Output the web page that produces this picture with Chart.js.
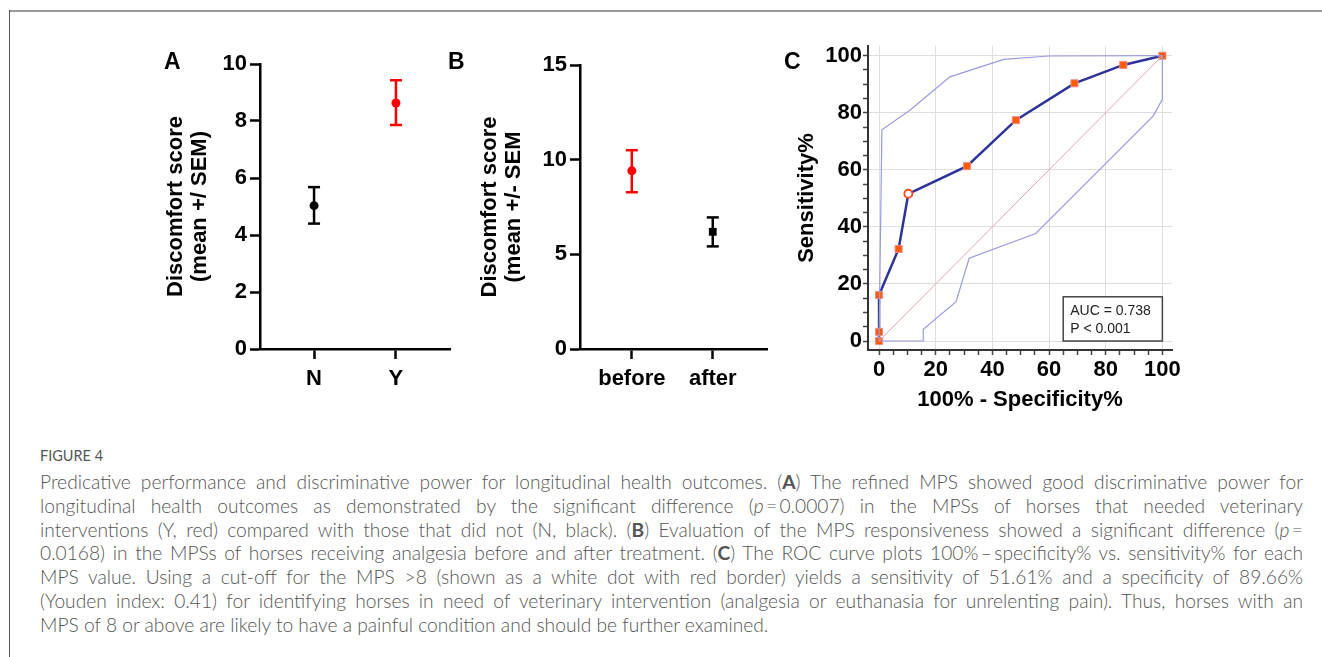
<!DOCTYPE html>
<html>
<head>
<meta charset="utf-8">
<script src="https://cdn.jsdelivr.net/npm/chart.js@4.4.1/dist/chart.umd.min.js"></script>
<style>
  body { margin:0; background:#fff; width:1322px; height:657px; overflow:hidden; position:relative; font-family:"Liberation Sans", Arial, sans-serif; }
  .frameTop { position:absolute; left:9px; top:10px; width:1313px; height:2px; background:#999; }
  .frameLeft { position:absolute; left:9px; top:10px; width:1px; height:647px; background:#555; }
  .panel { position:absolute; }
  .letter { position:absolute; font:bold 23px "Liberation Sans", Arial, sans-serif; color:#000; line-height:1; }
  #figlabel { position:absolute; left:40px; top:448px; font:14.5px Lato, "Open Sans", sans-serif; color:#555; line-height:16px; }
  #caption { position:absolute; left:40px; top:470px; width:1263px; font:300 19.2px Lato, "Open Sans", sans-serif; color:#555; line-height:23.8px; }
  #caption div { white-space:nowrap; text-align:justify; text-align-last:justify; }
  #caption div.last { text-align-last:left; }
  #caption b { font-weight:700; }
</style>
</head>
<body>
<div class="frameTop"></div>
<div class="frameLeft"></div>

<div class="panel" style="left:140px;top:30px"><canvas id="chartA" width="330" height="380"></canvas></div>
<div class="panel" style="left:430px;top:30px"><canvas id="chartB" width="350" height="380"></canvas></div>
<div class="panel" style="left:780px;top:30px"><canvas id="chartC" width="420" height="395"></canvas></div>

<div class="letter" style="left:164px;top:50px">A</div>
<div class="letter" style="left:448px;top:50px">B</div>
<div class="letter" style="left:784px;top:50px">C</div>

<div id="figlabel">FIGURE 4</div>
<div id="caption">
<div>Predicative performance and discriminative power for longitudinal health outcomes. (<b>A</b>) The refined MPS showed good discriminative power for</div>
<div>longitudinal health outcomes as demonstrated by the significant difference (<i>p</i>&#8201;=&#8201;0.0007) in the MPSs of horses that needed veterinary</div>
<div>interventions (Y, red) compared with those that did not (N, black). (<b>B</b>) Evaluation of the MPS responsiveness showed a significant difference (<i>p</i>&#8201;=</div>
<div>0.0168) in the MPSs of horses receiving analgesia before and after treatment. (<b>C</b>) The ROC curve plots 100%&#8201;&ndash;&#8201;specificity% vs. sensitivity% for each</div>
<div>MPS value. Using a cut-off for the MPS &gt;8 (shown as a white dot with red border) yields a sensitivity of 51.61% and a specificity of 89.66%</div>
<div>(Youden index: 0.41) for identifying horses in need of veterinary intervention (analgesia or euthanasia for unrelenting pain). Thus, horses with an</div>
<div class="last">MPS of 8 or above are likely to have a painful condition and should be further examined.</div>
</div>

<script>
// panel A: needed intervention (N / Y)
var groupsA = ['N', 'Y'];
var meanA = [5.03, 8.63];
var lowerA = [4.40, 7.86];
var upperA = [5.68, 9.43];
var ticksA = [0, 2, 4, 6, 8, 10];

// panel B: before / after analgesia
var groupsB = ['before', 'after'];
var meanB = [9.41, 6.19];
var lowerB = [8.28, 5.42];
var upperB = [10.50, 6.95];
var ticksB = [0, 5, 10, 15];

// panel C: ROC curve
var rocX = [0, 0, 0, 6.90, 10.34, 31.03, 48.28, 68.97, 86.21, 100];
var rocY = [0, 3.23, 16.13, 32.26, 51.61, 61.29, 77.42, 90.32, 96.77, 100];
var cutoffIdx = 4;
var upperBandX = [0, 1, 11, 25, 44, 60, 100];
var upperBandY = [0, 74, 81, 92.6, 98.7, 99.9, 100];
var lowerBandX = [0, 15.6, 15.6, 27.2, 31.8, 55.3, 96.8, 100, 100];
var lowerBandY = [0, 0, 4.1, 13.8, 29.0, 37.7, 78.9, 84.7, 100];
var diagX = [0, 100];
var diagY = [0, 100];
var ticksC = [0, 20, 40, 60, 80, 100];
var aucText = ['AUC = 0.738', 'P < 0.001'];

var boldFont = '"Liberation Sans", Arial, sans-serif';

function pts(xs, ys) {
  return xs.map(function (x, i) { return { x: x, y: ys[i] }; });
}

function dotPlot(id, groups, mean, lower, upper, yTicks, colors, shapes, title, box) {
  var datasets = [];
  groups.forEach(function (g, i) {
    datasets.push({
      data: [{ x: i + 1, y: lower[i] }, { x: i + 1, y: upper[i] }],
      showLine: true,
      borderColor: colors[i],
      borderWidth: 2.5,
      pointStyle: 'line',
      pointRadius: 6,
      pointBorderWidth: 2.5,
      pointBorderColor: colors[i]
    });
    datasets.push({
      data: [{ x: i + 1, y: mean[i] }],
      pointStyle: shapes[i],
      pointRadius: shapes[i] === 'rect' ? 5.5 : 4.5,
      pointBackgroundColor: colors[i],
      pointBorderColor: colors[i],
      pointBorderWidth: 0
    });
  });

  return new Chart(document.getElementById(id), {
    type: 'scatter',
    data: { datasets: datasets },
    options: {
      responsive: false,
      animation: false,
      layout: { padding: { top: box.top, right: box.right, left: 0, bottom: 0 } },
      plugins: { legend: { display: false }, tooltip: { enabled: false } },
      scales: {
        x: {
          type: 'linear',
          min: box.xmin, max: box.xmax,
          afterBuildTicks: function (s) { s.ticks = groups.map(function (g, i) { return { value: i + 1 }; }); },
          afterFit: function (s) { s.height = box.xh; },
          ticks: {
            autoSkip: false, padding: 7, color: '#000',
            font: { family: boldFont, size: 22, weight: 'bold' },
            callback: function (v) { return groups[v - 1]; }
          },
          grid: { drawOnChartArea: false, drawTicks: true, tickLength: 10, tickWidth: 2.5, tickColor: '#000' },
          border: { color: '#000', width: 2.5 }
        },
        y: {
          min: yTicks[0], max: yTicks[yTicks.length - 1],
          afterBuildTicks: function (s) { s.ticks = yTicks.map(function (v) { return { value: v }; }); },
          afterFit: function (s) { s.width = box.yw; },
          ticks: { padding: 3, color: '#000', font: { family: boldFont, size: 22, weight: 'bold' } },
          grid: { drawOnChartArea: false, drawTicks: true, tickLength: 10, tickWidth: 2.5, tickColor: '#000' },
          border: { color: '#000', width: 2.5 },
          title: {
            display: true, text: title, color: '#000',
            font: { family: boldFont, size: 22, weight: 'bold', lineHeight: 1.1 },
            padding: { top: box.titlePad, bottom: 0 }
          }
        }
      }
    }
  });
}

dotPlot('chartA', groupsA, meanA, lowerA, upperA, ticksA, ['#000000', '#ff0000'], ['circle', 'circle'],
  ['Discomfort score', '(mean +/ SEM)'],
  { top: 34, right: 20, xh: 61, yw: 120, xmin: 0.34, xmax: 2.66, titlePad: 24 });

dotPlot('chartB', groupsB, meanB, lowerB, upperB, ticksB, ['#ff0000', '#000000'], ['circle', 'rect'],
  ['Discomfort score', '(mean +/- SEM'],
  { top: 35, right: 13, xh: 61, yw: 150, xmin: 0.36, xmax: 2.67, titlePad: 48 });

// AUC text box in the lower right of panel C
var aucBox = {
  id: 'aucBox',
  afterDatasetsDraw: function (chart) {
    var ctx = chart.ctx, x = chart.scales.x, y = chart.scales.y;
    var l = x.getPixelForValue(65), r = x.getPixelForValue(100);
    var t = y.getPixelForValue(15.5), b = y.getPixelForValue(0);
    ctx.save();
    ctx.fillStyle = '#fff';
    ctx.fillRect(l, t, r - l, b - t);
    ctx.strokeStyle = '#444';
    ctx.lineWidth = 1.5;
    ctx.strokeRect(l, t, r - l, b - t);
    ctx.fillStyle = '#222';
    ctx.font = '14px "Liberation Sans", Arial, sans-serif';
    ctx.textBaseline = 'alphabetic';
    ctx.fillText(aucText[0], l + 7, t + 18);
    ctx.fillText(aucText[1], l + 7, t + 36);
    ctx.restore();
  }
};

var minorC = [];
for (var v = 0; v <= 100; v += 5) minorC.push({ value: v });

new Chart(document.getElementById('chartC'), {
  type: 'scatter',
  data: {
    datasets: [
      { data: pts(diagX, diagY), showLine: true, borderColor: '#e3a8a4', borderWidth: 1, pointRadius: 0 },
      { data: pts(upperBandX, upperBandY), showLine: true, borderColor: '#9a9ae0', borderWidth: 1.2, pointRadius: 0 },
      { data: pts(lowerBandX, lowerBandY), showLine: true, borderColor: '#9a9ae0', borderWidth: 1.2, pointRadius: 0 },
      {
        data: pts(rocX, rocY), showLine: true, borderColor: '#2f3399', borderWidth: 2.5,
        pointStyle: rocX.map(function (x, i) { return i === cutoffIdx ? 'circle' : 'rect'; }),
        pointRadius: rocX.map(function (x, i) { return i === cutoffIdx ? 4 : 5; }),
        pointBackgroundColor: rocX.map(function (x, i) { return i === cutoffIdx ? '#ffffff' : '#ff5a0a'; }),
        pointBorderColor: rocX.map(function (x, i) { return i === cutoffIdx ? '#ff4a1a' : '#e8908a'; }),
        pointBorderWidth: rocX.map(function (x, i) { return i === cutoffIdx ? 1.8 : 1; })
      }
    ]
  },
  options: {
    responsive: false,
    animation: false,
    layout: { padding: { top: 16, right: 28, left: 0, bottom: 0 } },
    plugins: { legend: { display: false }, tooltip: { enabled: false } },
    scales: {
      x: {
        type: 'linear', min: -3.9, max: 103.4,
        afterBuildTicks: function (s) { s.ticks = minorC.slice(); },
        afterFit: function (s) { s.height = 75; },
        ticks: {
          autoSkip: false, maxRotation: 0, padding: 2, color: '#000',
          font: { family: boldFont, size: 22, weight: 'bold' },
          callback: function (v) { return ticksC.indexOf(v) >= 0 ? String(v) : ''; }
        },
        grid: {
          color: function (c) { return c.tick && ticksC.indexOf(c.tick.value) >= 0 ? '#dedede' : 'rgba(0,0,0,0)'; },
          lineWidth: 1, drawTicks: true, tickLength: 5, tickColor: '#444', tickWidth: 1.5
        },
        border: { color: '#333', width: 2 },
        title: {
          display: true, text: '100% - Specificity%', color: '#000',
          font: { family: boldFont, size: 22, weight: 'bold', lineHeight: 1.1 },
          padding: { top: 0, bottom: 13 }
        }
      },
      y: {
        min: -3.15, max: 103.4,
        afterBuildTicks: function (s) { s.ticks = minorC.slice(); },
        afterFit: function (s) { s.width = 88; },
        ticks: {
          autoSkip: false, padding: 1, color: '#000',
          font: { family: boldFont, size: 22, weight: 'bold' },
          callback: function (v) { return ticksC.indexOf(v) >= 0 ? String(v) : ''; }
        },
        grid: {
          color: function (c) { return c.tick && ticksC.indexOf(c.tick.value) >= 0 ? '#dedede' : 'rgba(0,0,0,0)'; },
          lineWidth: 1, drawTicks: true, tickLength: 5, tickColor: '#444', tickWidth: 1.5
        },
        border: { color: '#333', width: 2 },
        title: {
          display: true, text: 'Sensitivity%', color: '#000',
          font: { family: boldFont, size: 22, weight: 'bold', lineHeight: 1.1 },
          padding: { top: 15, bottom: 0 }
        }
      }
    }
  },
  plugins: [aucBox]
});
</script>
</body>
</html>
